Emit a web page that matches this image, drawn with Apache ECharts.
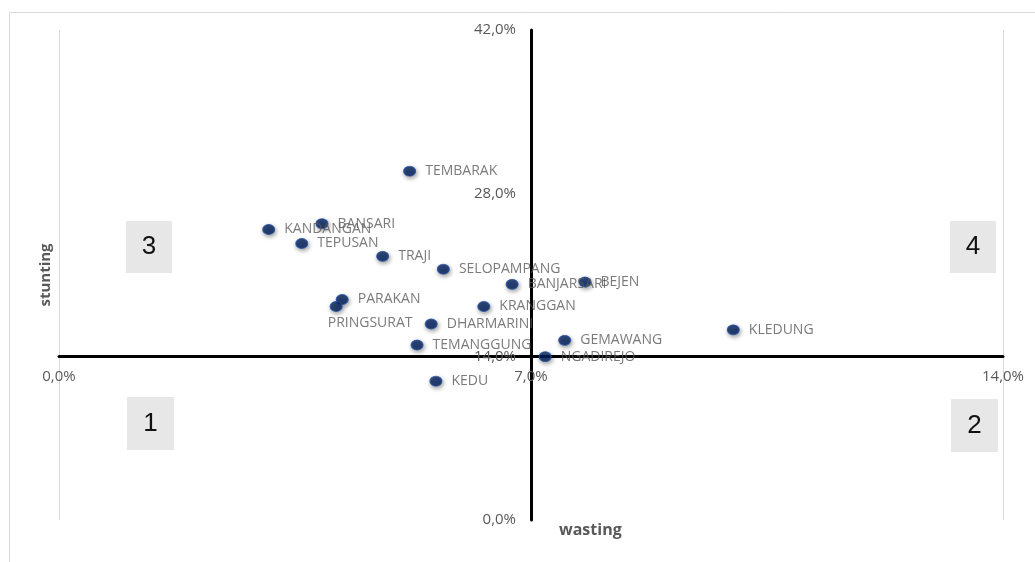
<!DOCTYPE html>
<html>
<head>
<meta charset="utf-8">
<script src="https://cdn.jsdelivr.net/npm/echarts@6/dist/echarts.min.js"></script>
<style>
html,body{margin:0;padding:0;background:#fff;}
#chart{width:1035px;height:562px;}
</style>
</head>
<body>
<div id="chart"></div>
<script>
// Data (percent values)
var names = ['TEMBARAK','BANSARI','KANDANGAN','TEPUSAN','TRAJI','SELOPAMPANG','BANJARSARI','BEJEN','PARAKAN','PRINGSURAT','KRANGGAN','DHARMARINI','TEMANGGUNG','GEMAWANG','NGADIREJO','KEDU','KLEDUNG'];
var wasting = [5.2, 3.9, 3.11, 3.6, 4.8, 5.7, 6.72, 7.8, 4.2, 4.11, 6.3, 5.52, 5.31, 7.5, 7.21, 5.59, 10.0];
var stunting = [29.9, 25.4, 24.9, 23.7, 22.6, 21.5, 20.2, 20.4, 18.9, 18.3, 18.3, 16.8, 15.0, 15.4, 14.0, 11.9, 16.3];
var xTicks = [0, 7, 14];
var yTicks = [0, 14, 28, 42];
var quadrants = ['1', '2', '3', '4'];

function pct(v){ return v.toFixed(1).replace('.', ',') + '%'; }

var gray = '#595959';
var font = 'Open Sans';

var data = names.map(function(n, i){
  var d = { name: n, value: [wasting[i], stunting[i]] };
  if (n === 'PRINGSURAT') {
    d.label = { position: 'bottom', distance: 4, offset: [34, 0] };
  }
  return d;
});

function quadBox(txt, x, y, w, h){
  return {
    type: 'group', left: x, top: y,
    children: [
      { type: 'rect', shape: { x: 0, y: 0, width: w, height: h }, style: { fill: '#e7e7e7' } },
      { type: 'text', x: w/2, y: h/2, style: { text: txt, fill: '#111', font: '26px "Liberation Sans", sans-serif', textAlign: 'center', textVerticalAlign: 'middle' } }
    ]
  };
}

var chart = echarts.init(document.getElementById('chart'));
chart.setOption({
  animation: false,
  backgroundColor: '#fff',
  grid: { left: 59, right: 32, top: 30, bottom: 42 },
  xAxis: {
    type: 'value', min: xTicks[0], max: xTicks[xTicks.length-1], interval: xTicks[1]-xTicks[0],
    position: 'bottom', offset: -164,
    axisLine: { show: true, onZero: false, lineStyle: { color: '#000', width: 3 } },
    axisTick: { show: false },
    axisLabel: { formatter: pct, color: gray, fontFamily: font, fontSize: 15, margin: 13, showMinLabel: true, showMaxLabel: true },
    splitLine: { show: true, lineStyle: { color: '#d9d9d9', width: 1 } }
  },
  yAxis: {
    type: 'value', min: yTicks[0], max: yTicks[yTicks.length-1], interval: yTicks[1]-yTicks[0],
    position: 'left', offset: -472,
    axisLine: { show: true, onZero: false, lineStyle: { color: '#000', width: 3 } },
    axisTick: { show: false },
    axisLabel: { formatter: pct, color: gray, fontFamily: font, fontSize: 15, margin: 15 },
    splitLine: { show: false }
  },
  series: [{
    type: 'scatter',
    data: data,
    symbol: 'circle',
    symbolSize: [12, 10],
    itemStyle: {
      color: '#00205f', borderColor: '#2452a8', borderWidth: 1,
      shadowBlur: 4, shadowColor: 'rgba(0,0,0,0.45)', shadowOffsetX: 1, shadowOffsetY: 2
    },
    label: {
      show: true, position: 'right', distance: 9,
      formatter: '{b}', color: gray, fontFamily: font, fontSize: 14
    },
    z: 5
  }],
  graphic: [
    { type: 'rect', left: 7, top: 10, shape: { width: 1060, height: 600 }, style: { fill: 'none', stroke: '#d9d9d9', lineWidth: 1 }, z: -1 },
    quadBox(quadrants[0], 127, 397, 47, 53),
    quadBox(quadrants[1], 951, 399, 47, 53),
    quadBox(quadrants[2], 126, 221, 46, 52),
    quadBox(quadrants[3], 950, 221, 46, 52),
    { type: 'text', left: 559, top: 522, style: { text: 'wasting', fill: gray, font: 'bold 16px "Open Sans", sans-serif' } },
    { type: 'text', x: 46, y: 275, rotation: Math.PI/2, style: { text: 'stunting', fill: gray, font: 'bold 15px "Open Sans", sans-serif', textAlign: 'center', textVerticalAlign: 'middle' } }
  ]
});
</script>
</body>
</html>
